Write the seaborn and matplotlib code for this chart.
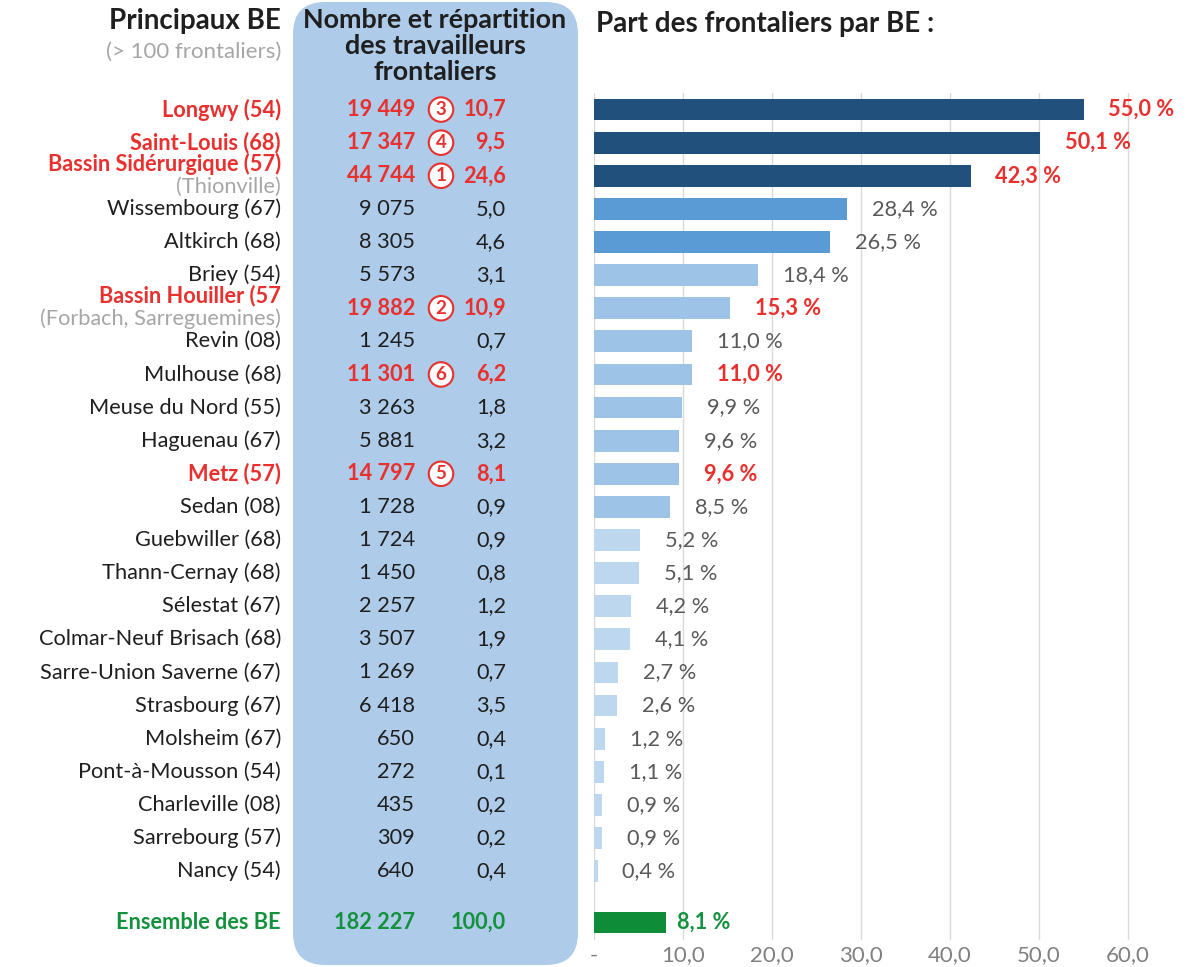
import matplotlib
matplotlib.use("Agg")
import matplotlib.pyplot as plt
from matplotlib.patches import FancyBboxPatch
from matplotlib.transforms import blended_transform_factory
import seaborn as sns
import pandas as pd

# data
names = ["Longwy (54)", "Saint-Louis (68)", "Bassin Sidérurgique (57)", "Wissembourg (67)",
         "Altkirch (68)", "Briey (54)", "Bassin Houiller (57", "Revin (08)", "Mulhouse (68)",
         "Meuse du Nord (55)", "Haguenau (67)", "Metz (57)", "Sedan (08)", "Guebwiller (68)",
         "Thann-Cernay (68)", "Sélestat (67)", "Colmar-Neuf Brisach (68)",
         "Sarre-Union Saverne (67)", "Strasbourg (67)", "Molsheim (67)", "Pont-à-Mousson (54)",
         "Charleville (08)", "Sarrebourg (57)", "Nancy (54)"]
workers = [19449, 17347, 44744, 9075, 8305, 5573, 19882, 1245, 11301, 3263, 5881, 14797,
           1728, 1724, 1450, 2257, 3507, 1269, 6418, 650, 272, 435, 309, 640]
shares = [10.7, 9.5, 24.6, 5.0, 4.6, 3.1, 10.9, 0.7, 6.2, 1.8, 3.2, 8.1,
          0.9, 0.9, 0.8, 1.2, 1.9, 0.7, 3.5, 0.4, 0.1, 0.2, 0.2, 0.4]
pct = [55.0, 50.1, 42.3, 28.4, 26.5, 18.4, 15.3, 11.0, 11.0, 9.9, 9.6, 9.6,
       8.5, 5.2, 5.1, 4.2, 4.1, 2.7, 2.6, 1.2, 1.1, 0.9, 0.9, 0.4]
ranks = {"Longwy (54)": 3, "Saint-Louis (68)": 4, "Bassin Sidérurgique (57)": 1,
         "Bassin Houiller (57": 2, "Mulhouse (68)": 6, "Metz (57)": 5}
red_names = ["Longwy (54)", "Saint-Louis (68)", "Bassin Sidérurgique (57)",
             "Bassin Houiller (57", "Metz (57)"]
sub_labels = {"Bassin Sidérurgique (57)": "(Thionville)",
              "Bassin Houiller (57": "(Forbach, Sarreguemines)"}
total_name = "Ensemble des BE"
total_workers = 182227
total_share = 100.0
total_pct = 8.1
xticks = [0, 10, 20, 30, 40, 50, 60]
xtick_labels = ["-", "10,0", "20,0", "30,0", "40,0", "50,0", "60,0"]

RED = "#e8312f"
GREEN = "#13913d"
DARK = "#1f1f1f"
GREY_TXT = "#595959"
LIGHT_GREY = "#a6a6a6"
FS = 15.7


def fr_int(v):
    return f"{v:,}".replace(",", " ")


def fr_dec(v):
    return f"{v:.1f}".replace(".", ",")


def tier(v):
    if v >= 40:
        return "#21507c"
    if v >= 20:
        return "#5b9bd5"
    if v >= 8:
        return "#9dc3e6"
    return "#bdd7ee"


sns.set_style("white")
plt.rcParams["font.family"] = ["Lato", "DejaVu Sans"]

fig = plt.figure(figsize=(11.99, 9.67), dpi=100)

# rounded blue panel behind the middle column
panel = FancyBboxPatch((2.93, 0.02), 2.85, 9.63, boxstyle="round,pad=0,rounding_size=0.32",
                       transform=fig.dpi_scale_trans, fc="#aecce9", ec="none", zorder=-1)
fig.patches.append(panel)

ax = fig.add_axes([594 / 1199, 27 / 967, 583 / 1199, 847 / 967])

positions = list(range(len(names))) + [len(names) + 0.55]
all_names = names + [total_name]
all_pct = pct + [total_pct]
colors = {n: tier(v) for n, v in zip(names, pct)}
colors[total_name] = "#0f8c38"

df = pd.DataFrame({"pos": positions, "pct": all_pct, "name": all_names})
sns.barplot(data=df, x="pct", y="pos", hue="name", palette=colors, orient="h",
            native_scale=True, dodge=False, width=0.66, legend=False, saturation=1,
            linewidth=0, ax=ax)

ax.set_xlim(0, 65.5)
ax.set_ylim(25.08, -0.5)
ax.set_xticks(xticks)
ax.set_xticklabels(xtick_labels, color="#808080", fontsize=16)
ax.set_yticks([])
ax.set_xlabel("")
ax.set_ylabel("")
ax.tick_params(axis="x", length=0, pad=4)
ax.grid(axis="x", color="#d9d9d9", lw=1)
ax.set_axisbelow(True)
for s in ax.spines.values():
    s.set_visible(False)
ax.patch.set_alpha(0)

tr = blended_transform_factory(fig.transFigure, ax.transData)
x_name = 281 / 1199
x_num = 415 / 1199
x_rank = 441 / 1199
x_share = 506 / 1199

for i, (n, w, s, v) in enumerate(zip(names, workers, shares, pct)):
    highlighted = n in ranks
    name_col = RED if n in red_names else DARK
    name_w = "bold" if n in red_names else "normal"
    y_name = i
    if n in sub_labels:
        y_name = i - 0.37
        ax.text(x_name, i + 0.33, sub_labels[n], transform=tr, ha="right", va="center",
                fontsize=FS, color=LIGHT_GREY, clip_on=False)
    ax.text(x_name, y_name, n, transform=tr, ha="right", va="center", fontsize=FS,
            color=name_col, fontweight=name_w, clip_on=False)

    num_col = RED if highlighted else DARK
    num_w = "bold" if highlighted else "normal"
    ax.text(x_num, i, fr_int(w), transform=tr, ha="right", va="center", fontsize=FS,
            color=num_col, fontweight=num_w, clip_on=False)
    ax.text(x_share, i, fr_dec(s), transform=tr, ha="right", va="center", fontsize=FS,
            color=num_col, fontweight=num_w, clip_on=False)
    if highlighted:
        ax.text(x_rank, i, str(ranks[n]), transform=tr, ha="center", va="center",
                fontsize=13.5, color=RED, fontweight="bold", clip_on=False,
                bbox=dict(boxstyle="circle,pad=0.2", fc="white", ec=RED, lw=1.5))

    ax.text(v + 2.8, i, fr_dec(v) + " %", ha="left", va="center", fontsize=FS,
            color=RED if highlighted else GREY_TXT, fontweight=num_w)

# total row
yt = positions[-1]
ax.text(x_name, yt, total_name, transform=tr, ha="right", va="center", fontsize=FS,
        color=GREEN, fontweight="bold", clip_on=False)
ax.text(x_num, yt, fr_int(total_workers), transform=tr, ha="right", va="center",
        fontsize=FS, color=GREEN, fontweight="bold", clip_on=False)
ax.text(x_share, yt, fr_dec(total_share), transform=tr, ha="right", va="center",
        fontsize=FS, color=GREEN, fontweight="bold", clip_on=False)
ax.text(total_pct + 1.25, yt, fr_dec(total_pct) + " %", ha="left", va="center",
        fontsize=FS, color=GREEN, fontweight="bold")

# headers
fig.text(281 / 1199, 1 - 21 / 967, "Principaux BE", ha="right", va="center",
         fontsize=20, fontweight="bold", color=DARK)
fig.text(281 / 1199, 1 - 52 / 967, "(> 100 frontaliers)", ha="right", va="center",
         fontsize=16, color=LIGHT_GREY)
fig.text(435 / 1199, 1 - 46 / 967, "Nombre et répartition\ndes travailleurs\nfrontaliers",
         ha="center", va="center", fontsize=19.4, fontweight="bold", color=DARK,
         linespacing=1.08)
fig.text(596 / 1199, 1 - 24 / 967, "Part des frontaliers par BE :", ha="left",
         va="center", fontsize=20, fontweight="bold", color=DARK)

fig.savefig("out.png", dpi=100)
